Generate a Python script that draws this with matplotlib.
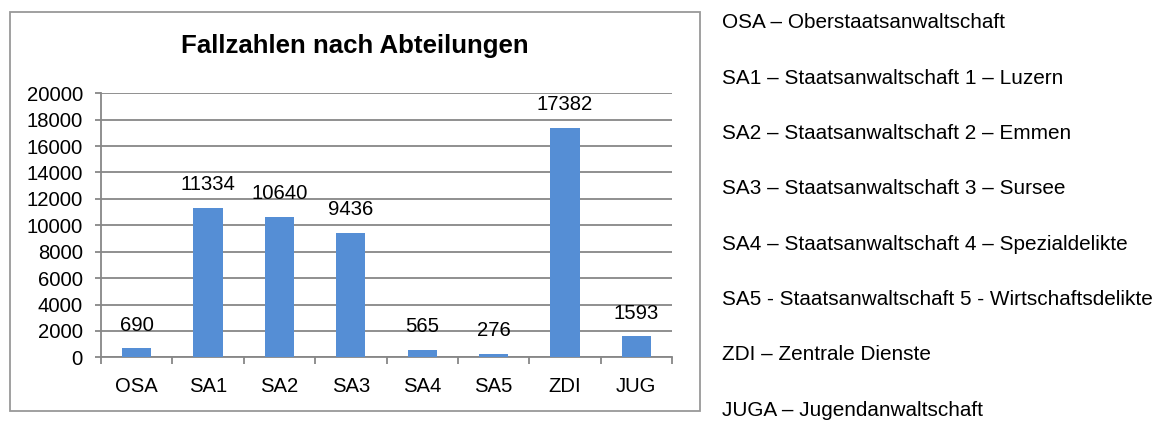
import matplotlib
matplotlib.use("Agg")
import matplotlib.pyplot as plt
from matplotlib.patches import Rectangle
import numpy as np

plt.rcParams['font.family'] = ['Liberation Sans', 'DejaVu Sans']

# data
categories = ['OSA', 'SA1', 'SA2', 'SA3', 'SA4', 'SA5', 'ZDI', 'JUG']
fallzahlen = [690, 11334, 10640, 9436, 565, 276, 17382, 1593]
yticks = [0, 2000, 4000, 6000, 8000, 10000, 12000, 14000, 16000, 18000, 20000]
legende = ['OSA – Oberstaatsanwaltschaft',
           'SA1 – Staatsanwaltschaft 1 – Luzern',
           'SA2 – Staatsanwaltschaft 2 – Emmen',
           'SA3 – Staatsanwaltschaft 3 – Sursee',
           'SA4 – Staatsanwaltschaft 4 – Spezialdelikte',
           'SA5 - Staatsanwaltschaft 5 - Wirtschaftsdelikte',
           'ZDI – Zentrale Dienste',
           'JUGA – Jugendanwaltschaft']

W, H = 1156, 423
fig = plt.figure(figsize=(W / 100, H / 100), dpi=100)

grey = '#878787'
bar_col = '#558ed5'

# outer chart frame (pixel coords -> figure fraction)
fx0, fx1, fy0, fy1 = 10, 700, 12, 410.5
fig.patches.append(Rectangle((fx0 / W, 1 - fy1 / H), (fx1 - fx0) / W, (fy1 - fy0) / H,
                             transform=fig.transFigure, fill=False,
                             edgecolor='#999999', lw=1.3))

# plot area
ax_l, ax_r, ax_t, ax_b = 101, 672, 93.3, 357.3
ax = fig.add_axes([ax_l / W, 1 - ax_b / H, (ax_r - ax_l) / W, (ax_b - ax_t) / H])

x = np.arange(len(categories))
ax.bar(x, fallzahlen, width=0.41, color=bar_col, zorder=3)
for xi, v in zip(x, fallzahlen):
    ax.annotate(str(v), (xi, v), xytext=(0, 16.5), textcoords='offset points',
                ha='center', va='center', fontsize=14.6, color='black')

ax.set_xlim(-0.5, len(categories) - 0.5)
ax.set_ylim(0, 20000)
ax.set_yticks(yticks)
ax.set_yticklabels([str(t) for t in yticks], fontsize=14.6)
ax.set_xticks(x)
ax.set_xticklabels(categories, fontsize=14.6)
ax.set_xticks(np.arange(-0.5, len(categories)), minor=True)
ax.tick_params(axis='x', which='major', length=0, pad=14)
ax.tick_params(axis='x', which='minor', length=5, width=1.3, color=grey, direction='out')
ax.tick_params(axis='y', length=4, width=1.3, color=grey, pad=9)

ax.grid(axis='y', color=grey, lw=1.3, zorder=0)
for s in ['top', 'right']:
    ax.spines[s].set_visible(False)
for s in ['left', 'bottom']:
    ax.spines[s].set_color(grey)
    ax.spines[s].set_linewidth(1.3)
ax.set_facecolor('none')

fig.text(355 / W, 1 - 46 / H, 'Fallzahlen nach Abteilungen', ha='center', va='center',
         fontsize=18.6, fontweight='bold')

# abbreviation list on the right
for i, t in enumerate(legende):
    fig.text(722 / W, 1 - (23 + i * 55.3) / H, t, ha='left', va='center', fontsize=14.95)

fig.savefig('out.png', dpi=100)
